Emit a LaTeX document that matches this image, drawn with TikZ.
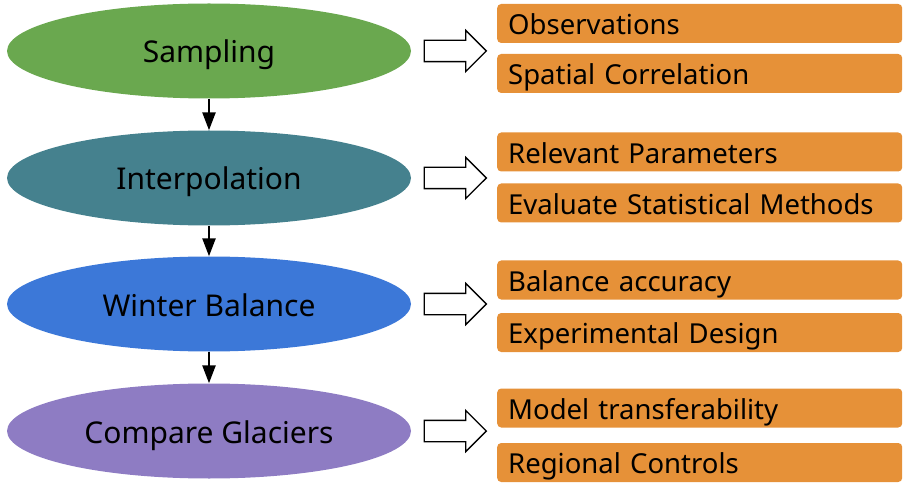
\documentclass[tikz,border=0pt]{standalone}
\usepackage{fontspec}
\setmainfont{Noto Sans}
\usetikzlibrary{shapes.geometric, shapes.arrows, arrows.meta}
\definecolor{gsample}{HTML}{6AA84F}
\definecolor{ginterp}{HTML}{45818E}
\definecolor{gwinter}{HTML}{3C78D8}
\definecolor{gcompare}{HTML}{8E7CC3}
\definecolor{gtopic}{HTML}{E69138}
\tikzset{
  stage/.style={ellipse, minimum width=404pt, minimum height=95pt, inner sep=0pt,
    text height=30pt, text depth=6pt, font=\fontsize{30}{34}\selectfont},
  topic/.style={anchor=west, fill=gtopic, rounded corners=4pt, minimum height=39pt,
    text width=383pt, inner xsep=11pt, inner ysep=0pt, align=left,
    text height=30.6pt, text depth=8.4pt, font=\fontsize{27.5}{31}\selectfont},
  leads/.style={single arrow, draw=black, fill=white, line width=1.3pt,
    minimum height=62pt, inner xsep=0pt, inner ysep=10pt,
    single arrow head extend=10pt},
  flow/.style={-{Triangle[length=18pt,width=13pt]}, line width=2.5pt}
}
\begin{document}
\begin{tikzpicture}[x=1pt, y=-1pt]
 \useasboundingbox (0,0) rectangle (915,494);
 \node[stage, fill=gsample] (samp) at (209,51) {Sampling};
 \node[stage, fill=ginterp] (interp) at (209,178) {Interpolation};
 \node[stage, fill=gwinter] (winter) at (209,304) {Winter Balance};
 \node[stage, fill=gcompare] (comp) at (209,431) {Compare Glaciers};
 \draw[flow] (samp) -- (interp);
 \draw[flow] (interp) -- (winter);
 \draw[flow] (winter) -- (comp);

 \node[leads] (a1) at (450,51) {};
 \node[leads] (a2) at (450,178) {};
 \node[leads] (a3) at (450,304) {};
 \node[leads] (a4) at (450,431) {};

 \node[topic] (obs) at (497,23.5) {Observations};
 \node[topic] (corr) at (497,73.5) {Spatial Correlation};
 \node[topic] (param) at (497,152) {Relevant Parameters};
 \node[topic] (stat) at (497,203) {Evaluate Statistical Methods};
 \node[topic] (acc) at (497,280) {Balance accuracy};
 \node[topic] (design) at (497,332.5) {Experimental Design};
 \node[topic] (transf) at (497,408) {Model transferability};
 \node[topic] (region) at (497,462.5) {Regional Controls};
\end{tikzpicture}
\end{document}
